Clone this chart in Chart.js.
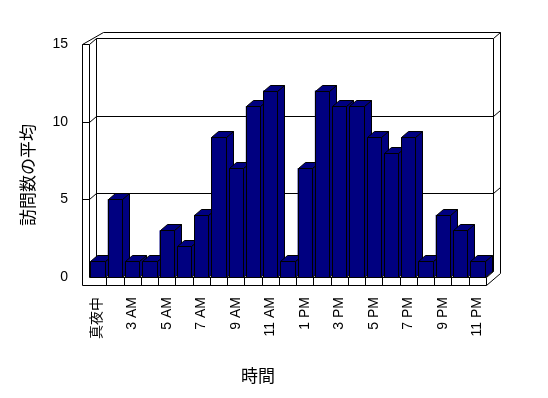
<!DOCTYPE html>
<html>
<head>
<meta charset="utf-8">
<script src="https://cdn.jsdelivr.net/npm/chart.js@4"></script>
<style>
  html, body { margin: 0; background: #fff; }
  #wrap { width: 548px; height: 398px; }
</style>
</head>
<body>
<div id="wrap"><canvas id="c"></canvas></div>
<script>
// データ
const hours = ['真夜中', '2 AM', '3 AM', '4 AM', '5 AM', '6 AM', '7 AM', '8 AM', '9 AM', '10 AM', '11 AM',
  '正午', '1 PM', '2 PM', '3 PM', '4 PM', '5 PM', '6 PM', '7 PM', '8 PM', '9 PM', '10 PM', '11 PM'];
const visits = [1, 5, 1, 1, 3, 2, 4, 9, 7, 11, 12, 1, 7, 12, 11, 11, 9, 8, 9, 1, 4, 3, 1];
const yTicks = [0, 5, 10, 15];

const DX = 7, DY = -6; // 奥行き
const NAVY = '#000080';

function line(ctx, x1, y1, x2, y2) {
  ctx.beginPath();
  ctx.moveTo(Math.round(x1) + 0.5, Math.round(y1) + 0.5);
  ctx.lineTo(Math.round(x2) + 0.5, Math.round(y2) + 0.5);
  ctx.stroke();
}
function poly(ctx, pts) {
  ctx.beginPath();
  pts.forEach((p, i) => {
    const x = Math.round(p[0]) + 0.5, y = Math.round(p[1]) + 0.5;
    i ? ctx.lineTo(x, y) : ctx.moveTo(x, y);
  });
  ctx.closePath();
  ctx.fill();
  ctx.stroke();
}

// 壁と床
const walls = {
  id: 'walls',
  beforeDatasetsDraw(chart) {
    const { ctx, chartArea: a, scales } = chart;
    const L = a.left, R = a.right, T = a.top, B = a.bottom;
    ctx.save();
    ctx.strokeStyle = '#000';
    ctx.lineWidth = 1;
    // 左の壁
    line(ctx, L - 7, T, L - 7, B + 8);
    line(ctx, L, T, L, B);
    line(ctx, L + DX, T + DY, L + DX, B + DY);
    line(ctx, L - 7, T, L, T);
    line(ctx, L - 7, T, L + 2 * DX, T + 2 * DY);
    line(ctx, L, T, L + DX, T + DY);
    // 上辺
    line(ctx, L + 2 * DX, T + 2 * DY, R + 2 * DX, T + 2 * DY);
    line(ctx, L + DX, T + DY, R + DX, T + DY);
    // 右辺
    line(ctx, R + DX, T + DY, R + DX, B + DY);
    line(ctx, R + 2 * DX, T + 2 * DY, R + 2 * DX, B + 8 + 2 * DY);
    line(ctx, R + DX, T + DY, R + 2 * DX, T + 2 * DY);
    // 目盛線
    yTicks.slice(1, -1).forEach(v => {
      const y = scales.y.getPixelForValue(v);
      line(ctx, L - 7, y, L, y);
      line(ctx, L, y, L + DX, y + DY);
      line(ctx, L + DX, y + DY, R + DX, y + DY);
      line(ctx, R + DX, y + DY, R + 2 * DX, y + 2 * DY);
    });
    // 床
    line(ctx, L + DX, B + DY, R + DX, B + DY);
    line(ctx, L, B, R, B);
    line(ctx, L - 7, B + 8, R, B + 8);
    line(ctx, R, B, R, B + 8);
    line(ctx, R, B, R + DX, B + DY);
    line(ctx, R, B + 8, R + 2 * DX, B + 8 + 2 * DY);
    const xs = scales.x;
    for (let i = 1; i < hours.length; i++) {
      const x = (xs.getPixelForValue(i - 1) + xs.getPixelForValue(i)) / 2;
      line(ctx, x, B, x, B + 8);
    }
    ctx.restore();
  },
  afterDatasetsDraw(chart) {
    const { ctx } = chart;
    const meta = chart.getDatasetMeta(0);
    ctx.save();
    ctx.strokeStyle = '#000';
    ctx.fillStyle = NAVY;
    ctx.lineWidth = 1;
    meta.data.forEach(el => {
      const { x, y, base, width } = el.getProps(['x', 'y', 'base', 'width'], true);
      const xl = x - width / 2, xr = x + width / 2;
      poly(ctx, [[xr, y], [xr + DX, y + DY], [xr + DX, base + DY], [xr, base]]);
      poly(ctx, [[xl, y], [xl + DX, y + DY], [xr + DX, y + DY], [xr, y]]);
      poly(ctx, [[xl, y], [xr, y], [xr, base], [xl, base]]);
    });
    ctx.restore();
  }
};

// 軸タイトル
const titles = {
  id: 'titles',
  afterDraw(chart) {
    const { ctx } = chart;
    ctx.save();
    ctx.fillStyle = '#000';
    ctx.font = '17px "Noto Sans CJK JP"';
    ctx.textAlign = 'center';
    ctx.textBaseline = 'middle';
    ctx.fillText('時間', 258, 376);
    ctx.translate(28, 175);
    ctx.rotate(-Math.PI / 2);
    ctx.fillText('訪問数の平均', 0, 0);
    ctx.restore();
  }
};

const tickFont = { family: '"Liberation Sans", "Noto Sans CJK JP", sans-serif', size: 14 };

new Chart(document.getElementById('c'), {
  type: 'bar',
  data: {
    labels: hours,
    datasets: [{
      data: visits,
      backgroundColor: NAVY,
      borderColor: '#000',
      borderWidth: 0,
      barPercentage: 0.83,
      categoryPercentage: 1
    }]
  },
  options: {
    responsive: true,
    maintainAspectRatio: false,
    animation: false,
    layout: { padding: { left: 0, top: 44, right: 62, bottom: 0 } },
    plugins: { legend: { display: false }, tooltip: { enabled: false } },
    scales: {
      x: {
        grid: { display: false, drawTicks: false },
        border: { display: false },
        afterFit: s => { s.height = 121; },
        ticks: {
          autoSkip: false,
          maxRotation: 90,
          minRotation: 90,
          padding: 20,
          color: '#000',
          font: tickFont,
          callback: (v, i) => (i % 2 === 0 ? hours[i] : '')
        }
      },
      y: {
        min: 0,
        max: 15,
        grid: { display: false, drawTicks: false },
        border: { display: false },
        afterFit: s => { s.width = 89; },
        afterBuildTicks: s => { s.ticks = yTicks.map(v => ({ value: v })); },
        ticks: { padding: 21, color: '#000', font: tickFont }
      }
    }
  },
  plugins: [walls, titles]
});
</script>
</body>
</html>
